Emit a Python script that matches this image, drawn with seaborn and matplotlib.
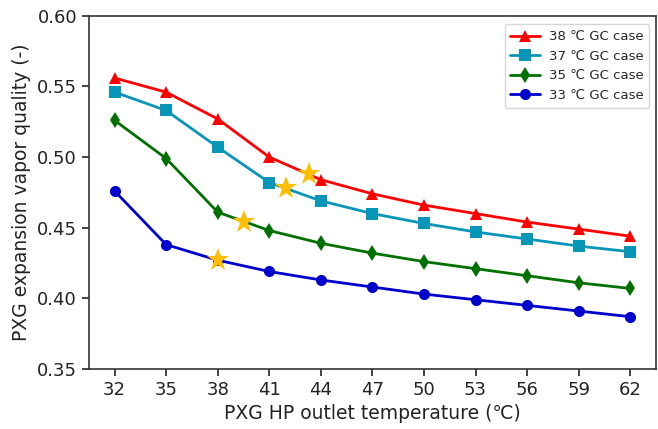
import numpy as np
import pandas as pd
import seaborn as sns
import matplotlib
matplotlib.use("Agg")
import matplotlib.pyplot as plt

# PXG high-pressure outlet temperatures (°C)
temps = [32, 35, 38, 41, 44, 47, 50, 53, 56, 59, 62]

# Expansion vapor quality for each gas-cooler outlet temperature case
q_38 = [0.556, 0.546, 0.527, 0.500, 0.484, 0.474, 0.466, 0.460, 0.454, 0.449, 0.444]
q_37 = [0.546, 0.533, 0.507, 0.482, 0.469, 0.460, 0.453, 0.447, 0.442, 0.437, 0.433]
q_35 = [0.526, 0.499, 0.461, 0.448, 0.439, 0.432, 0.426, 0.421, 0.416, 0.411, 0.407]
q_33 = [0.476, 0.438, 0.427, 0.419, 0.413, 0.408, 0.403, 0.399, 0.395, 0.391, 0.387]

case_names = ["38 ℃ GC case", "37 ℃ GC case", "35 ℃ GC case", "33 ℃ GC case"]

# Optimum points marked with stars
star_x = [38.0, 39.5, 42.0, 43.3]
star_y = [0.427, 0.454, 0.478, 0.488]

df = pd.DataFrame({
    "T": temps * 4,
    "q": q_38 + q_37 + q_35 + q_33,
    "case": np.repeat(case_names, len(temps)),
})

sns.set_style("ticks")
plt.rcParams["font.family"] = ["DejaVu Sans"]

fig = plt.figure(figsize=(6.58, 4.29), dpi=100)
ax = fig.add_axes([0.135, 0.14, 0.862, 0.823])

palette = {case_names[0]: "#ff0000", case_names[1]: "#0896b8",
           case_names[2]: "#007000", case_names[3]: "#0000cc"}
markers = {case_names[0]: "^", case_names[1]: "s",
           case_names[2]: "d", case_names[3]: "o"}

sns.lineplot(data=df, x="T", y="q", hue="case", style="case",
             hue_order=case_names, style_order=case_names,
             palette=palette, markers=markers, dashes=False,
             markersize=8, markeredgewidth=0, linewidth=2, ax=ax)

ax.plot(star_x, star_y, linestyle="none", marker="*", markersize=17,
        color="#ffbf00", markeredgewidth=0, zorder=5)

ax.set_xlim(30.5, 63.5)
ax.set_ylim(0.35, 0.60)
ax.set_xticks(temps)
ax.set_yticks([0.35, 0.40, 0.45, 0.50, 0.55, 0.60])
ax.yaxis.set_major_formatter(matplotlib.ticker.FormatStrFormatter("%.2f"))
ax.tick_params(labelsize=13, length=5, width=1.2, colors="#222222")
for s in ax.spines.values():
    s.set_color("#333333")
    s.set_linewidth(1.2)

ax.set_xlabel("PXG HP outlet temperature (℃)", fontsize=13.5, color="#222222")
ax.set_ylabel("PXG expansion vapor quality (-)", fontsize=13.5, color="#222222")

leg = ax.legend(loc="upper right", bbox_to_anchor=(1.0, 0.995), fontsize=9.5,
                frameon=True, handlelength=2.2, borderpad=0.45, labelspacing=0.5,
                handletextpad=0.7)
leg.get_frame().set_edgecolor("#cccccc")

fig.savefig("out.png", dpi=100)
